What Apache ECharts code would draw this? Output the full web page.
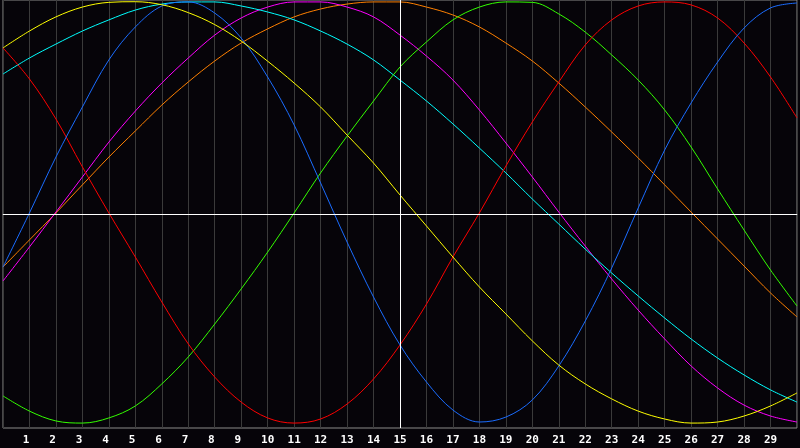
<!DOCTYPE html>
<html>
<head>
    <meta charset="UTF-8">
    <title>Sine waves</title>
    <script src="https://cdn.jsdelivr.net/npm/echarts@6/dist/echarts.min.js"></script>
    <style>
        html, body { margin: 0; padding: 0; background: #060409; }
    </style>
</head>
<body>
<div id="main" style="width: 800px;height:448px;"></div>
<script type="text/javascript">
    // x categories (0 .. 30), labels shown for 1..29
    let categories = ['0', '1', '2', '3', '4', '5', '6', '7', '8', '9', '10', '11', '12', '13', '14', '15',
        '16', '17', '18', '19', '20', '21', '22', '23', '24', '25', '26', '27', '28', '29', '30'];

    // values, one per category
    let yellow = [0.776, 0.855, 0.921, 0.967, 0.989, 0.992, 0.978, 0.941, 0.885, 0.808, 0.714, 0.612, 0.5, 0.369, 0.238, 0.089,
        -0.056, -0.201, -0.341, -0.467, -0.593, -0.706, -0.794, -0.864, -0.921, -0.958, -0.977, -0.972, -0.944, -0.897, -0.836];
    let cyan = [0.654, 0.729, 0.794, 0.855, 0.907, 0.953, 0.981, 0.991, 0.991, 0.972, 0.944, 0.907, 0.855, 0.794, 0.72, 0.626,
        0.528, 0.421, 0.308, 0.192, 0.07, -0.047, -0.164, -0.276, -0.383, -0.486, -0.584, -0.673, -0.752, -0.822, -0.879];
    let blue = [-0.248, 0.005, 0.266, 0.5, 0.72, 0.874, 0.972, 0.991, 0.939, 0.822, 0.64, 0.416, 0.145, -0.131, -0.388, -0.612,
        -0.785, -0.916, -0.972, -0.949, -0.869, -0.71, -0.5, -0.252, 0.028, 0.299, 0.519, 0.71, 0.869, 0.963, 0.986];
    let red = [0.776, 0.631, 0.444, 0.22, 0.005, -0.201, -0.411, -0.607, -0.762, -0.879, -0.953, -0.977, -0.958, -0.888, -0.771, -0.612,
        -0.421, -0.201, 0.005, 0.224, 0.43, 0.617, 0.79, 0.907, 0.972, 0.991, 0.977, 0.916, 0.799, 0.64, 0.449];
    let green = [-0.85, -0.921, -0.967, -0.977, -0.953, -0.897, -0.794, -0.668, -0.514, -0.35, -0.178, 0.005, 0.192, 0.364, 0.528, 0.687,
        0.804, 0.907, 0.967, 0.991, 0.989, 0.935, 0.85, 0.743, 0.626, 0.486, 0.313, 0.117, -0.075, -0.262, -0.43];
    let magenta = [-0.313, -0.154, 0.009, 0.173, 0.336, 0.481, 0.612, 0.729, 0.836, 0.916, 0.967, 0.991, 0.991, 0.967, 0.921, 0.836,
        0.738, 0.626, 0.486, 0.332, 0.173, 0.009, -0.15, -0.304, -0.449, -0.584, -0.71, -0.813, -0.893, -0.944, -0.972];
    let orange = [-0.248, -0.121, 0.005, 0.136, 0.266, 0.388, 0.509, 0.617, 0.715, 0.799, 0.865, 0.921, 0.958, 0.981, 0.991, 0.991,
        0.967, 0.93, 0.874, 0.799, 0.715, 0.612, 0.5, 0.383, 0.262, 0.136, 0.009, -0.117, -0.243, -0.369, -0.481];

    let myChart = echarts.init(document.getElementById('main'));

    function wave(name, data, color) {
        return {
            name: name,
            type: 'line',
            smooth: 0.35,
            symbol: 'none',
            data: data,
            lineStyle: {color: color, width: 1},
            itemStyle: {color: color}
        };
    }

    let series = [
        wave('orange', orange, '#ff8000'),
        wave('magenta', magenta, '#ff00ff'),
        wave('cyan', cyan, '#00ffff'),
        wave('green', green, '#33ff00'),
        wave('red', red, '#ff0000'),
        wave('blue', blue, '#1a6cff'),
        wave('yellow', yellow, '#ffff00')
    ];

    // white cross lines at the centre
    series.push({
        type: 'line',
        data: [],
        markLine: {
            silent: true,
            symbol: 'none',
            label: {show: false},
            lineStyle: {color: '#ffffff', width: 1, type: 'solid'},
            data: [{yAxis: 0}, {xAxis: '15'}]
        },
        z: 1
    });

    let option = {
        animation: false,
        backgroundColor: '#060409',
        grid: {
            left: 0,
            right: -1,
            top: 0,
            bottom: 20,
            show: true,
            borderColor: '#8a8a8a',
            borderWidth: 1
        },
        xAxis: {
            type: 'category',
            data: categories,
            boundaryGap: false,
            axisLine: {lineStyle: {color: '#9a9a9a', width: 1}},
            axisTick: {show: false},
            splitLine: {show: true, interval: 0, lineStyle: {color: '#3a3a3a', width: 1}},
            axisLabel: {
                interval: 0,
                color: '#ffffff',
                fontFamily: 'DejaVu Sans Mono',
                fontWeight: 'bold',
                fontSize: 11,
                margin: 7,
                // single digits sit in the left half of a two-character box
                formatter: v => (v === '0' || v === '30') ? '' : (v.length === 1 ? v + '\u00a0' : v)
            }
        },
        yAxis: {
            type: 'value',
            min: -1,
            max: 1,
            axisLine: {show: false},
            axisTick: {show: false},
            axisLabel: {show: false},
            splitLine: {show: false}
        },
        series: series
    };

    myChart.setOption(option);
</script>
</body>
</html>
